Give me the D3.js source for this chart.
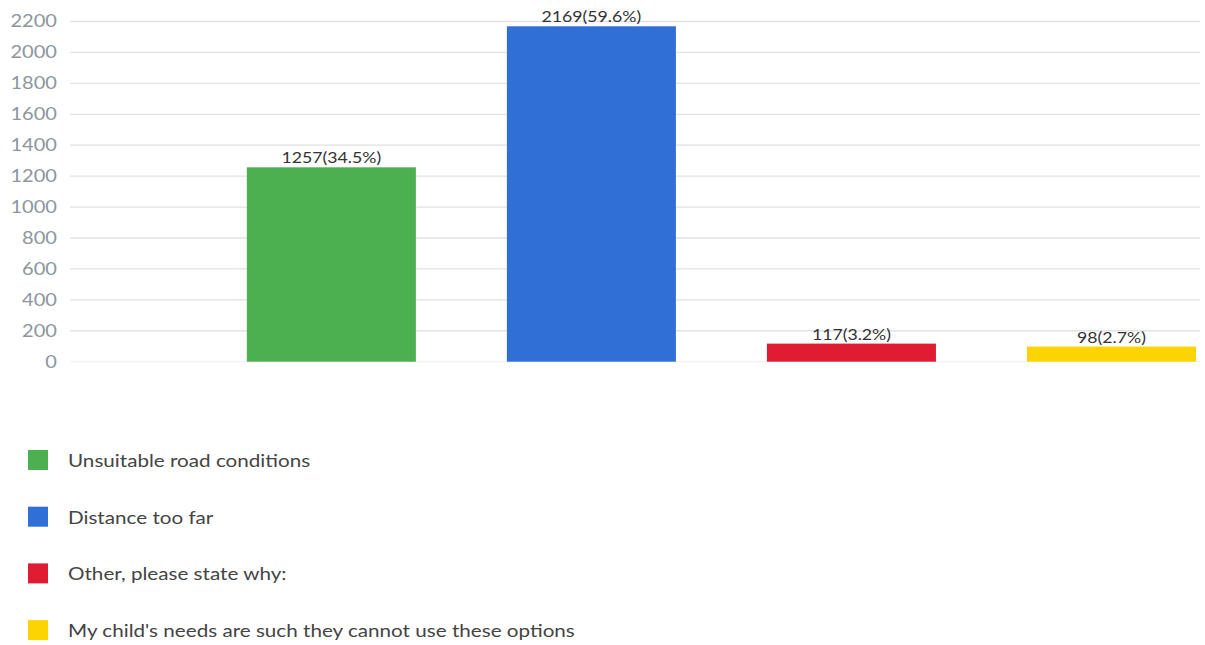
<!DOCTYPE html>
<html>
<head>
<meta charset="utf-8">
<script src="https://cdn.jsdelivr.net/npm/d3@7"></script>
<style>
  body { margin: 0; background: #fff; }
  #chart { width: 1205px; height: 645px; }
</style>
</head>
<body>
<div id="chart"></div>
<script>
const categories = ["Unsuitable road conditions", "Distance too far", "Other, please state why:", "My child's needs are such they cannot use these options"]
const values = [1257, 2169, 117, 98]
const percents = ["34.5%", "59.6%", "3.2%", "2.7%"]
const colors = ["#4caf50", "#2f6fd6", "#e01c32", "#fcd303"]
const yTicks = [0, 200, 400, 600, 800, 1000, 1200, 1400, 1600, 1800, 2000, 2200]

const width = 1205
const height = 645
const plot = {left: 70, right: 1200, top: 21.5, bottom: 361.7}
const stretch = 1.18  // text in the picture is a bit wider than Lato

const svg = d3.select('#chart')
  .append('svg')
  .attr('width', width)
  .attr('height', height)
  .style('font-family', 'Lato')

const yScale = d3.scaleLinear()
  .domain([0, 2200])
  .range([plot.bottom, plot.top])

const xScale = d3.scaleBand()
  .domain(categories)
  .range([plot.left, 1196])
  .paddingInner(0.35)
  .paddingOuter(0.34)
  .align(1)

// grid lines
svg.append('g')
  .selectAll('line')
  .data(yTicks)
  .enter()
  .append('line')
  .attr('x1', plot.left)
  .attr('x2', plot.right)
  .attr('y1', d => yScale(d))
  .attr('y2', d => yScale(d))
  .attr('stroke', d => d == 0 ? '#f3f3f3' : '#e2e2e2')
  .attr('stroke-width', 1.3)

const yAxis = d3.axisLeft(yScale).tickValues(yTicks).tickFormat(d3.format('d')).tickSize(0).tickPadding(0)
const yg = svg.append('g')
  .attr('transform', 'translate(57,0)')
  .call(yAxis)
yg.select('.domain').remove()
yg.selectAll('text')
  .attr('transform', 'scale(' + stretch + ',1)')
  .attr('fill', '#8d969d')
  .style('font-family', 'Lato')
  .style('font-size', '17px')

svg.selectAll('.bar')
  .data(values)
  .enter()
  .append('rect')
  .attr('class', 'bar')
  .attr('x', (d, i) => xScale(categories[i]))
  .attr('y', d => yScale(d))
  .attr('width', xScale.bandwidth())
  .attr('height', d => yScale(0) - yScale(d))
  .attr('fill', (d, i) => colors[i])

svg.selectAll('.lbl')
  .data(values)
  .enter()
  .append('text')
  .attr('class', 'lbl')
  .attr('transform', (d, i) => 'translate(' + (xScale(categories[i]) + xScale.bandwidth() / 2) + ',' + (yScale(d) - 4) + ') scale(' + stretch + ',1)')
  .attr('text-anchor', 'middle')
  .attr('fill', '#333')
  .style('font-size', '15px')
  .text((d, i) => d + '(' + percents[i] + ')')

// legend
const legend = svg.append('g')
  .selectAll('g')
  .data(categories)
  .enter()
  .append('g')
  .attr('transform', (d, i) => 'translate(28,' + (450 + i * 56.7) + ')')

legend.append('rect')
  .attr('width', 20)
  .attr('height', 20)
  .attr('fill', (d, i) => colors[i])

legend.append('text')
  .attr('transform', 'translate(40,17) scale(' + stretch + ',1)')
  .attr('fill', '#444')
  .style('font-size', '17.5px')
  .text(d => d)
</script>
</body>
</html>
